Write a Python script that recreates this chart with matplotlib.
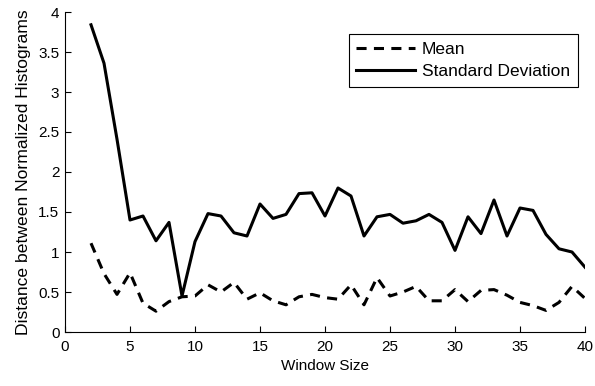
import matplotlib
matplotlib.use("Agg")
import matplotlib.pyplot as plt

plt.rcParams['font.family'] = ['Liberation Sans', 'DejaVu Sans']

window_size = list(range(2, 41))
mean_vals = [1.11, 0.73, 0.47, 0.74, 0.36, 0.26, 0.38, 0.44, 0.45,
             0.59, 0.50, 0.62, 0.41, 0.49, 0.39, 0.34, 0.44, 0.47, 0.43,
             0.41, 0.59, 0.34, 0.68, 0.45, 0.50, 0.57, 0.39, 0.39, 0.53,
             0.38, 0.52, 0.53, 0.46, 0.37, 0.33, 0.27, 0.37, 0.57, 0.42]
std_vals = [3.84, 3.36, 2.41, 1.40, 1.45, 1.14, 1.37, 0.45, 1.13,
            1.48, 1.45, 1.24, 1.20, 1.60, 1.42, 1.47, 1.73, 1.74, 1.45,
            1.80, 1.70, 1.20, 1.44, 1.47, 1.36, 1.39, 1.47, 1.37, 1.02,
            1.44, 1.23, 1.65, 1.20, 1.55, 1.52, 1.22, 1.04, 1.00, 0.81]
x_ticks = [0, 5, 10, 15, 20, 25, 30, 35, 40]
y_ticks = [0, 0.5, 1, 1.5, 2, 2.5, 3, 3.5, 4]
y_tick_labels = ['0', '0.5', '1', '1.5', '2', '2.5', '3', '3.5', '4']

fig = plt.figure(figsize=(5.95, 3.86), dpi=100)
ax = fig.add_axes([65/595, 1 - 332/386, 520/595, 320/386])

ax.plot(window_size, mean_vals, color='black', lw=2.2,
        linestyle=(0, (3.3, 2.4)), label='Mean')
ax.plot(window_size, std_vals, color='black', lw=2.2,
        label='Standard Deviation')

ax.set_xlim(0, 40)
ax.set_ylim(0, 4)
ax.set_xticks(x_ticks)
ax.set_yticks(y_ticks)
ax.set_yticklabels(y_tick_labels)
ax.tick_params(direction='in', length=4, width=0.8, labelsize=11,
               top=False, right=False)
ax.tick_params(axis='x', pad=6)
ax.tick_params(axis='y', pad=4)
for s in ['top', 'right']:
    ax.spines[s].set_visible(False)
for s in ['left', 'bottom']:
    ax.spines[s].set_linewidth(0.8)

ax.set_xlabel('Window Size', fontsize=11, labelpad=3)
ax.set_ylabel('Distance between Normalized Histograms', fontsize=12.6, labelpad=5)

leg = ax.legend(loc='upper right', fancybox=False, framealpha=1,
                edgecolor='black', fontsize=12.5, handlelength=3.4,
                borderpad=0.45, labelspacing=0.4, handletextpad=0.38,
                borderaxespad=0)
leg.get_frame().set_linewidth(0.8)
leg.set_bbox_to_anchor((578/595, 1 - 34/386), transform=fig.transFigure)

fig.savefig('out.png', dpi=100)
